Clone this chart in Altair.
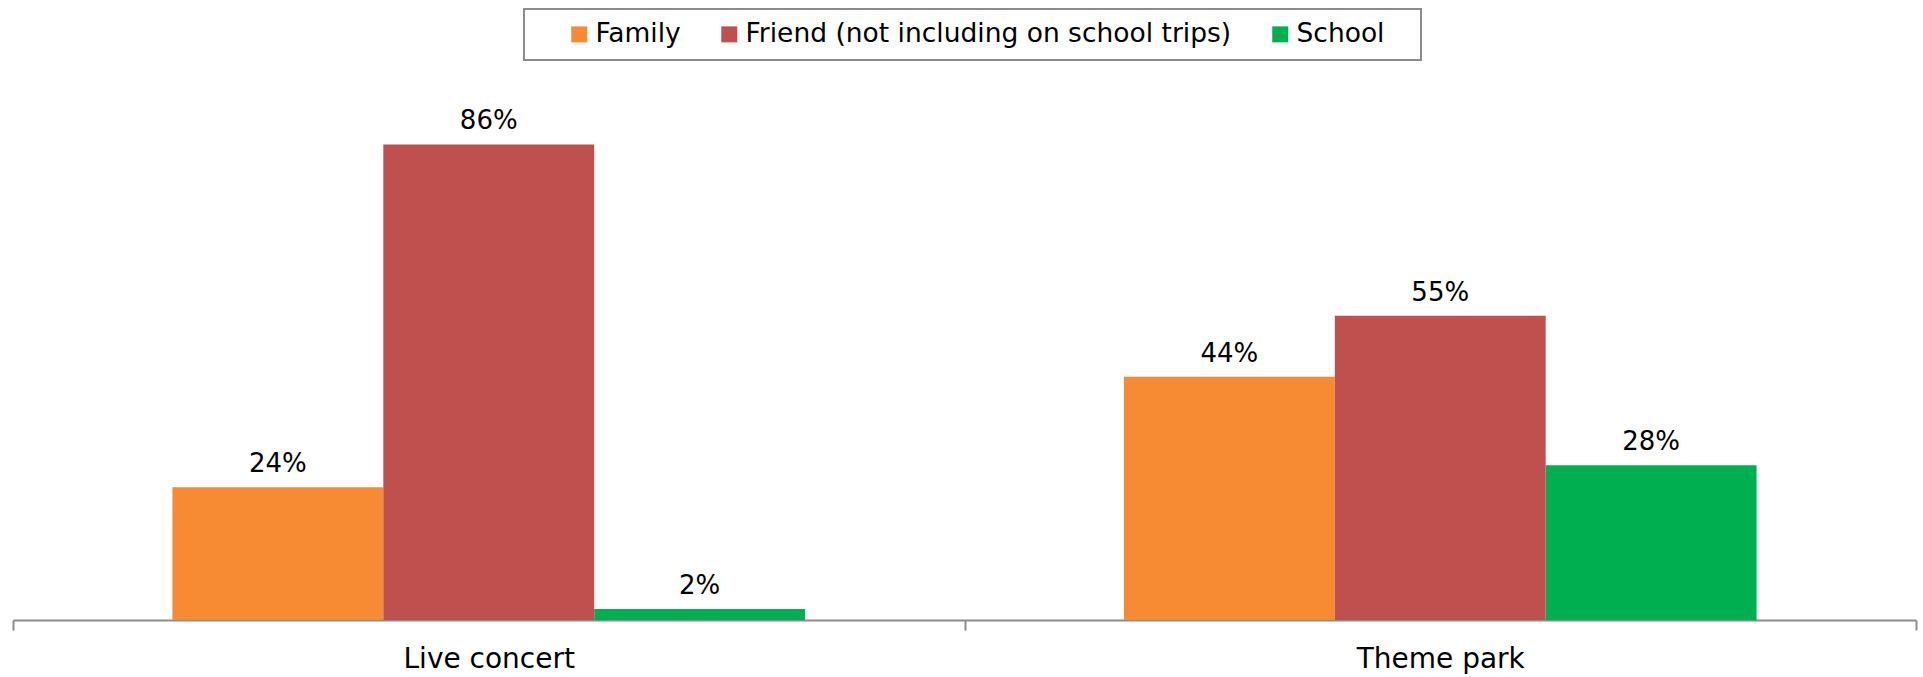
import altair as alt
import pandas as pd

categories = ["Live concert", "Theme park"]
series = ["Family", "Friend (not including on school trips)", "School"]
family = [0.24, 0.44]
friend = [0.86, 0.55]
school = [0.02, 0.28]
colors = ["#F68B33", "#C0504D", "#00B050"]

rows = []
for i, c in enumerate(categories):
    for s, vals in zip(series, [family, friend, school]):
        rows.append({"category": c, "series": s, "value": vals[i]})
df = pd.DataFrame(rows)

base = alt.Chart(df).encode(
    x=alt.X(
        "category:N",
        sort=categories,
        title=None,
        scale=alt.Scale(paddingInner=0, paddingOuter=0),
        axis=alt.Axis(
            labelAngle=0,
            tickBand="extent",
            labelFontSize=28,
            labelFont="DejaVu Sans",
            labelColor="#000000",
            domainColor="#8c8c8c",
            domainWidth=2,
            tickColor="#8c8c8c",
            tickWidth=2,
            tickSize=10,
            labelPadding=15,
        ),
    ),
    xOffset=alt.XOffset(
        "series:N", sort=series, scale=alt.Scale(paddingInner=0, paddingOuter=0.756)
    ),
    y=alt.Y("value:Q", scale=alt.Scale(domain=[0, 1]), axis=None),
)

bars = base.mark_bar().encode(
    color=alt.Color(
        "series:N",
        sort=series,
        scale=alt.Scale(domain=series, range=colors),
        legend=alt.Legend(
            orient="none",
            legendX=511,
            legendY=-58,
            direction="horizontal",
            title="\u00a0",
            titleOrient="right",
            titlePadding=25,
            titleFontSize=8,
            labelFont="DejaVu Sans",
            labelFontSize=26.5,
            labelColor="#000000",
            labelLimit=2000,
            symbolType="square",
            symbolSize=256,
            symbolStrokeWidth=0,
            strokeColor="#8c8c8c",
            padding=12,
            columnPadding=5,
            symbolOffset=30,
            labelOffset=3,
        ),
    )
)

labels = base.mark_text(
    baseline="alphabetic",
    dy=-15,
    fontSize=26,
    font="DejaVu Sans",
    color="#000000",
).encode(text=alt.Text("value:Q", format=".0%"))

chart = (
    alt.layer(bars, labels)
    .properties(
        width=1903,
        height=553,
        autosize="none",
        padding={"left": 13, "top": 67, "right": 7, "bottom": 57},
    )
    .configure_view(stroke=None)
    .configure_legend(strokeWidth=2)
)

chart.save("out.html", embed_options={"renderer": "svg", "actions": False})
